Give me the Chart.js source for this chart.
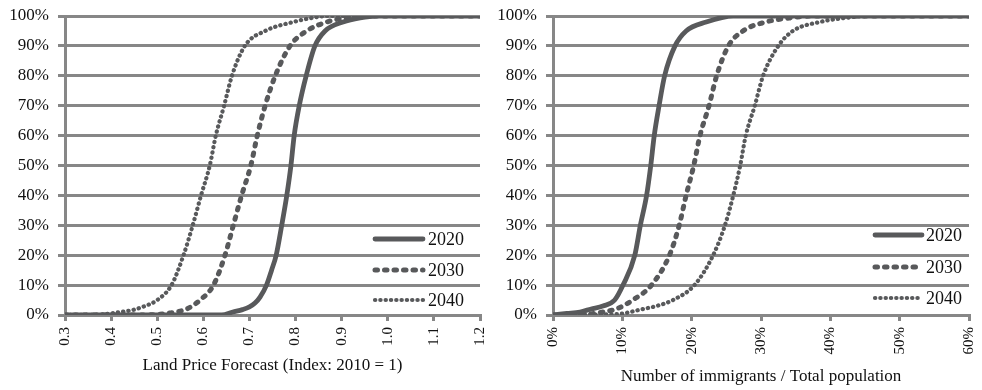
<!DOCTYPE html>
<html>
<head>
<meta charset="utf-8">
<script src="https://cdn.jsdelivr.net/npm/chart.js@4"></script>
<style>
  html, body { margin: 0; padding: 0; background: #fff; }
  #wrap { position: relative; width: 982px; height: 390px; }
  #landBox { position: absolute; left: 0; top: 0; width: 490px; height: 390px; }
  #immBox { position: absolute; left: 490px; top: 0; width: 492px; height: 390px; }
</style>
</head>
<body>
<div id="wrap">
  <div id="landBox"><canvas id="landChart" width="490" height="390"></canvas></div>
  <div id="immBox"><canvas id="immChart" width="492" height="390"></canvas></div>
</div>
<script>
// Cumulative distribution of the forecast land price index (2010 = 1)
const landX2020 = [0.30, 0.50, 0.64, 0.664, 0.685, 0.700, 0.712, 0.723, 0.737, 0.748, 0.758, 0.770, 0.781, 0.790, 0.797, 0.808, 0.823, 0.842, 0.864, 0.903, 0.940, 0.977, 1.20];
const landP2020 = [0, 0, 0, 1, 1.8, 2.7, 4, 6, 10, 15, 20, 30, 40, 50, 60, 70, 80, 90, 95, 98, 99.4, 100, 100];

const landX2030 = [0.30, 0.45, 0.50, 0.54, 0.564, 0.593, 0.622, 0.647, 0.665, 0.683, 0.703, 0.717, 0.734, 0.756, 0.788, 0.824, 0.868, 0.900, 0.933, 1.20];
const landP2030 = [0, 0, 0.2, 1, 2, 5, 10, 20, 30, 40, 50, 60, 70, 80, 90, 95, 98, 99.2, 100, 100];

const landX2040 = [0.30, 0.38, 0.42, 0.45, 0.47, 0.50, 0.531, 0.557, 0.577, 0.595, 0.614, 0.627, 0.645, 0.662, 0.690, 0.734, 0.795, 0.830, 0.870, 1.20];
const landP2040 = [0, 0.2, 1, 1.8, 2.8, 5, 10, 20, 30, 40, 50, 60, 70, 80, 90, 95, 98, 99.2, 100, 100];

const landTicks = [0.3, 0.4, 0.5, 0.6, 0.7, 0.8, 0.9, 1.0, 1.1, 1.2];

// Cumulative distribution of immigrants as a share of total population (%)
const immX2020 = [0, 2, 3.9, 5.5, 7.2, 8.9, 10.1, 11.8, 12.6, 13.5, 14.1, 14.6, 15.3, 16.1, 17.6, 19.2, 22.1, 26, 60];
const immP2020 = [0, 0.5, 1, 2, 3, 5, 10, 20, 30, 40, 50, 60, 70, 80, 90, 95, 98, 100, 100];

const immX2030 = [0, 5, 7.2, 9.1, 11.5, 14.2, 16.8, 18.2, 19.2, 20.3, 21.2, 22.5, 23.6, 25.3, 27.4, 30.7, 34, 37.5, 60];
const immP2030 = [0, 0.3, 1, 2, 5, 10, 20, 30, 40, 50, 60, 70, 80, 90, 95, 98, 99.3, 100, 100];

const immX2040 = [0, 7, 10.1, 11.1, 13, 14.9, 17.3, 20.4, 23.1, 24.8, 26.0, 27.0, 27.8, 29.1, 30.3, 32.5, 34.6, 38.5, 42, 45.7, 60];
const immP2040 = [0, 0.2, 0.5, 1, 2, 3, 5, 10, 20, 30, 40, 50, 60, 70, 80, 90, 95, 98, 99.3, 100, 100];

const immTicks = [0, 10, 20, 30, 40, 50, 60];

const percentTicks = [0, 10, 20, 30, 40, 50, 60, 70, 80, 90, 100];

const yearLabels = ['2020', '2030', '2040'];

const LINE = '#58595b';
const GRID = '#878787';
const SERIF = '"Liberation Serif", "Times New Roman", serif';

const styles = [
  { borderWidth: 4.8, borderDash: [] },
  { borderWidth: 5, borderDash: [2.5, 7] },
  { borderWidth: 4.2, borderDash: [0.3, 5] }
];

function toPoints(xs, ps) {
  return xs.map((x, i) => ({ x: x, y: ps[i] }));
}

function makeDatasets(series) {
  return series.map((s, i) => Object.assign({
    label: yearLabels[i],
    data: toPoints(s[0], s[1]),
    borderColor: LINE,
    backgroundColor: LINE,
    borderCapStyle: 'round',
    borderJoinStyle: 'round',
    showLine: true,
    pointRadius: 0,
    cubicInterpolationMode: 'monotone',
    fill: false
  }, styles[i]));
}

// Legend drawn inside the plot, lower right
const inlineLegend = {
  id: 'inlineLegend',
  afterDatasetsDraw(chart, args, opts) {
    const { ctx, chartArea } = chart;
    chart.data.datasets.forEach((ds, i) => {
      const y = chartArea.bottom - opts.rows[i];
      ctx.save();
      ctx.strokeStyle = ds.borderColor;
      ctx.lineWidth = ds.borderWidth;
      ctx.lineCap = 'round';
      ctx.setLineDash(ds.borderDash || []);
      ctx.beginPath();
      ctx.moveTo(chartArea.right - opts.lineStart, y);
      ctx.lineTo(chartArea.right - opts.lineEnd, y);
      ctx.stroke();
      ctx.setLineDash([]);
      ctx.fillStyle = '#111';
      ctx.font = '18px ' + SERIF;
      ctx.textBaseline = 'middle';
      ctx.textAlign = 'left';
      ctx.fillText(ds.label, chartArea.right - opts.textStart, y + 1);
      ctx.restore();
    });
  }
};

function buildOptions(cfg) {
  return {
    responsive: false,
    animation: false,
    layout: { padding: { top: 16, right: cfg.padRight, left: 0, bottom: 0 } },
    plugins: {
      legend: { display: false },
      tooltip: { enabled: false },
      inlineLegend: cfg.legend
    },
    scales: {
      x: {
        type: 'linear',
        min: cfg.xMin,
        max: cfg.xMax,
        afterBuildTicks: (scale) => { scale.ticks = cfg.ticks.map(v => ({ value: v })); },
        afterFit: (scale) => {
          scale.height = 75;
          scale.paddingLeft = 0;
          scale.paddingRight = 0;
        },
        grid: { drawOnChartArea: false, drawTicks: true, tickLength: 6, color: GRID, lineWidth: 3 },
        border: { display: true, color: GRID, width: 3 },
        ticks: {
          minRotation: 90, maxRotation: 90, padding: 6,
          color: '#111',
          font: { family: SERIF, size: 15 },
          callback: cfg.tickFormat
        },
        title: {
          display: true, text: cfg.title, color: '#111',
          font: { family: SERIF, size: 17 },
          padding: { top: 0, bottom: cfg.titleBottom }
        }
      },
      y: {
        min: 0, max: 100,
        afterBuildTicks: (scale) => { scale.ticks = percentTicks.map(v => ({ value: v })); },
        afterFit: (scale) => {
          scale.width = cfg.yWidth;
          scale.paddingTop = 0;
          scale.paddingBottom = 0;
        },
        grid: { color: GRID, lineWidth: 3, tickLength: 7, drawTicks: true },
        border: { display: true, color: GRID, width: 3 },
        ticks: {
          padding: 9, color: '#111',
          font: { family: SERIF, size: 17 },
          callback: (v) => v + '%'
        }
      }
    }
  };
}

new Chart(document.getElementById('landChart'), {
  type: 'scatter',
  data: {
    datasets: makeDatasets([[landX2020, landP2020], [landX2030, landP2030], [landX2040, landP2040]])
  },
  options: buildOptions({
    padRight: 10, yWidth: 65, xMin: 0.3, xMax: 1.2, ticks: landTicks,
    tickFormat: (v) => Number(v).toFixed(1),
    title: 'Land Price Forecast (Index: 2010 = 1)',
    titleBottom: 14,
    legend: { rows: [76, 45, 15], lineStart: 105, lineEnd: 57, textStart: 52 }
  }),
  plugins: [inlineLegend]
});

new Chart(document.getElementById('immChart'), {
  type: 'scatter',
  data: {
    datasets: makeDatasets([[immX2020, immP2020], [immX2030, immP2030], [immX2040, immP2040]])
  },
  options: buildOptions({
    padRight: 13, yWidth: 63, xMin: 0, xMax: 60, ticks: immTicks,
    tickFormat: (v) => v + '%',
    title: 'Number of immigrants / Total population',
    titleBottom: 3,
    legend: { rows: [80, 48, 17], lineStart: 94, lineEnd: 47, textStart: 43 }
  }),
  plugins: [inlineLegend]
});
</script>
</body>
</html>
